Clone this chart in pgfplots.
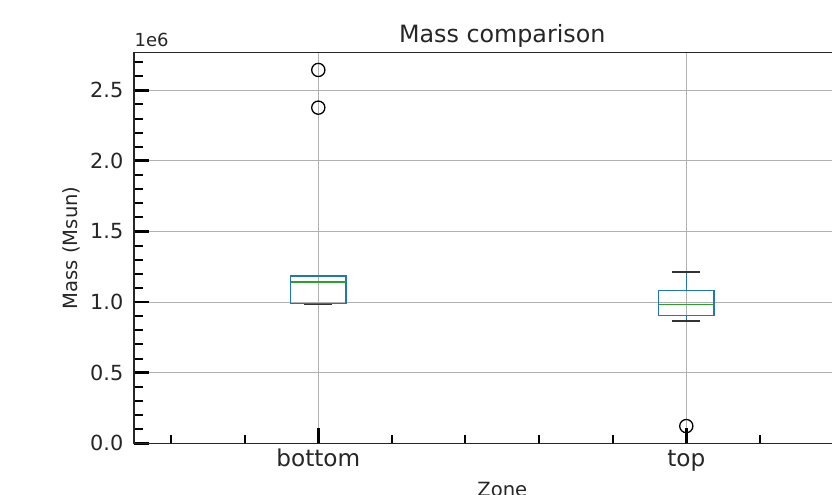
\documentclass[border=0pt]{standalone}
\usepackage{fontspec}
\setmainfont{DejaVu Sans}
\usepackage{pgfplots}
\pgfplotsset{compat=1.18}
\usepgfplotslibrary{statistics}
\definecolor{mplblue}{HTML}{1F77B4}
\definecolor{mplgreen}{HTML}{2CA02C}
\definecolor{gridgray}{HTML}{B0B0B0}
\pgfplotsset{
  /pgfplots/boxplot/draw/lower whisker/.code={%
    \draw[mplblue, line width=0.65pt]
      (boxplot box cs:\pgfplotsboxplotvalue{lower quartile},0.5) --
      (boxplot box cs:\pgfplotsboxplotvalue{lower whisker},0.5);
    \draw[black!80, line width=0.9pt]
      (boxplot whisker cs:\pgfplotsboxplotvalue{lower whisker},0) --
      (boxplot whisker cs:\pgfplotsboxplotvalue{lower whisker},1);
  },
  /pgfplots/boxplot/draw/upper whisker/.code={%
    \draw[mplblue, line width=0.65pt]
      (boxplot box cs:\pgfplotsboxplotvalue{upper quartile},0.5) --
      (boxplot box cs:\pgfplotsboxplotvalue{upper whisker},0.5);
    \draw[black!80, line width=0.9pt]
      (boxplot whisker cs:\pgfplotsboxplotvalue{upper whisker},0) --
      (boxplot whisker cs:\pgfplotsboxplotvalue{upper whisker},1);
  },
}
\begin{document}
\begin{tikzpicture}[x=1pt,y=1pt]
\useasboundingbox (0,0) rectangle (416,247);
\clip (0,0) rectangle (416,247);
\begin{axis}[
  at={(67.15pt,25.35pt)}, anchor=south west,
  scale only axis, width=368pt, height=195.5pt,
  xmin=0.5, xmax=2.5, ymin=0, ymax=2.769,
  clip mode=individual,
  xtick={1,2}, xticklabels={bottom,top},
  ytick={0,0.5,1,1.5,2,2.5},
  yticklabels={0.0,0.5,1.0,1.5,2.0,2.5},
  minor xtick={0.6,0.8,1.2,1.4,1.6,1.8,2.2,2.4},
  minor ytick={0.1,0.2,0.3,0.4,0.6,0.7,0.8,0.9,1.1,1.2,1.3,1.4,1.6,1.7,1.8,1.9,2.1,2.2,2.3,2.4,2.6,2.7},
  tick align=inside,
  xtick pos=bottom, ytick pos=left,
  major tick length=7.6pt, minor tick length=4.4pt,
  every major tick/.append style={line width=1.4pt, black},
  every minor tick/.append style={line width=1pt, black},
  grid=major,
  major grid style={gridgray, line width=0.55pt},
  minor grid style={draw=none},
  axis line style={line width=0.8pt, black!85},
  yticklabel style={anchor=east, inner sep=0pt, xshift=-5.3pt, font=\fontsize{10.4}{12}\selectfont, black!85},
  xticklabel style={anchor=base, inner sep=0pt, yshift=-11.8pt, font=\fontsize{11.6}{13}\selectfont, black!85},
  xlabel={Zone},
  xlabel style={at={(axis description cs:0.5,0)}, anchor=base, yshift=-26.5pt, inner sep=0pt, font=\fontsize{9.8}{11}\selectfont, black!85},
  ylabel={Mass (Msun)},
  ylabel style={at={(axis description cs:-0.0855,0.5)}, anchor=center, inner sep=0pt, font=\fontsize{9.8}{11}\selectfont, black!85},
  boxplot/draw direction=y,
  boxplot/box extend=0.15,
  boxplot/whisker extend=0.075,
]
\addplot[mplblue, line width=0.65pt,
  boxplot prepared={lower whisker=0.988, lower quartile=0.991, median=1.144,
    upper quartile=1.185, upper whisker=1.187, draw position=1},
  boxplot/every median/.style={mplgreen, line width=0.8pt},
  mark=o, mark size=3.3pt, mark options={black, line width=0.65pt}]
  table[row sep=\\, y index=0] {2.644\\ 2.377\\};
\addplot[mplblue, line width=0.65pt,
  boxplot prepared={lower whisker=0.868, lower quartile=0.904, median=0.984,
    upper quartile=1.081, upper whisker=1.213, draw position=2},
  boxplot/every median/.style={mplgreen, line width=0.8pt},
  mark=o, mark size=3.3pt, mark options={black, line width=0.65pt}]
  table[row sep=\\, y index=0] {0.122\\};
\node[anchor=south west, inner sep=0pt, font=\fontsize{9}{11}\selectfont, black!85]
  at (rel axis cs:0,1) [yshift=2.6pt] {1e6};
\node[anchor=base, inner sep=0pt, font=\fontsize{11.9}{14}\selectfont, black!85]
  at (rel axis cs:0.5,1) [yshift=5pt] {Mass comparison};
\end{axis}
\end{tikzpicture}
\end{document}
